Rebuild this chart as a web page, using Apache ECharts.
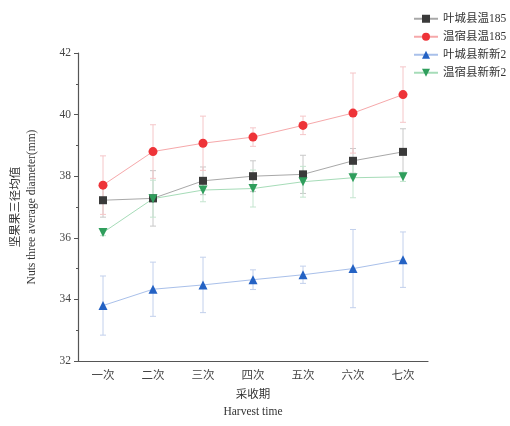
<!DOCTYPE html>
<html><head><meta charset="utf-8">
<script src="https://cdn.jsdelivr.net/npm/echarts@6/dist/echarts.min.js"></script>
<style>html,body{margin:0;padding:0;background:#fff}#c{width:510px;height:426px}</style>
</head><body><div id="c"></div>
<script>
const categories = ['一次','二次','三次','四次','五次','六次','七次'];
const seriesNames = ['叶城县温185','温宿县温185','叶城县新新2','温宿县新新2'];
const ycW185 = [37.22, 37.28, 37.85, 38.00, 38.06, 38.50, 38.79];
const ycW185Err = [0.55, 0.90, 0.45, 0.50, 0.62, 0.40, 0.75];
const wsW185 = [37.71, 38.80, 39.07, 39.27, 39.65, 40.05, 40.65];
const wsW185Err = [0.95, 0.87, 0.88, 0.30, 0.30, 1.30, 0.90];
const ycXX2 = [33.80, 34.33, 34.47, 34.64, 34.80, 35.00, 35.29];
const ycXX2Err = [0.96, 0.88, 0.90, 0.32, 0.28, 1.27, 0.90];
const wsXX2 = [36.17, 37.27, 37.55, 37.60, 37.82, 37.95, 37.98];
const wsXX2Err = [0.10, 0.60, 0.38, 0.60, 0.50, 0.65, 0.15];
const yTicks = {min: 32, max: 42, interval: 2};

const FONT_SERIF = '"Liberation Serif","Noto Sans CJK SC",serif';
const specs = [
  {name: seriesNames[0], data: ycW185, err: ycW185Err, color: '#3a3a3a', line: '#a8a8a8', ebar: '#c8c8c8', symbol: 'rect', size: 8, rot: 0},
  {name: seriesNames[1], data: wsW185, err: wsW185Err, color: '#ee3338', line: '#f6a8aa', ebar: '#f5c6c8', symbol: 'circle', size: 9, rot: 0},
  {name: seriesNames[2], data: ycXX2, err: ycXX2Err, color: '#2462c4', line: '#a9c0ea', ebar: '#c2d0ec', symbol: 'triangle', size: 9, rot: 0},
  {name: seriesNames[3], data: wsXX2, err: wsXX2Err, color: '#2f9e5c', line: '#a6dcb8', ebar: '#c4e5cf', symbol: 'triangle', size: 9, rot: 180}
];

const series = [];
specs.forEach(s => {
  series.push({
    type: 'custom', name: s.name + '_err', xAxisIndex: 0, yAxisIndex: 0, silent: true, z: 1,
    data: s.data.map((v, i) => [i, v - s.err[i], v + s.err[i]]),
    renderItem: function (params, api) {
      const lo = api.coord([api.value(0), api.value(1)]);
      const hi = api.coord([api.value(0), api.value(2)]);
      const w = 3;
      const st = {stroke: s.ebar, lineWidth: 1};
      return {type: 'group', children: [
        {type: 'line', shape: {x1: lo[0], y1: lo[1], x2: hi[0], y2: hi[1]}, style: st},
        {type: 'line', shape: {x1: lo[0]-w, y1: lo[1], x2: lo[0]+w, y2: lo[1]}, style: st},
        {type: 'line', shape: {x1: hi[0]-w, y1: hi[1], x2: hi[0]+w, y2: hi[1]}, style: st}
      ]};
    }
  });
});
specs.forEach(s => {
  series.push({
    type: 'line', name: s.name, data: s.data, xAxisIndex: 0, yAxisIndex: 0, z: 3,
    symbol: s.symbol, symbolSize: s.size, symbolRotate: s.rot,
    itemStyle: {color: s.color},
    lineStyle: {color: s.line, width: 1},
    emphasis: {disabled: true}
  });
});

const chart = echarts.init(document.getElementById('c'), null, {renderer: 'canvas'});
chart.setOption({
  animation: false,
  backgroundColor: '#fff',
  grid: {left: 78, right: 82, top: 53, bottom: 65},
  legend: {
    data: seriesNames, orient: 'vertical', left: 408, top: 8, itemGap: 6.5,
    itemWidth: 24, itemHeight: 10, itemTextGap: 5,
    textStyle: {fontFamily: FONT_SERIF, fontSize: 11.5, color: '#333'}
  },
  xAxis: [{
    type: 'category', data: categories, boundaryGap: true,
    axisLine: {lineStyle: {color: '#555', width: 1.2}},
    axisTick: {alignWithLabel: true, length: 5, lineStyle: {color: '#555'}},
    axisLabel: {fontFamily: FONT_SERIF, fontSize: 11.5, color: '#444', margin: 9},
    name: '采收期\nHarvest time', nameLocation: 'middle', nameGap: 25,
    nameTextStyle: {fontFamily: FONT_SERIF, fontSize: 11.5, color: '#333', lineHeight: 17}
  }, {
    type: 'category', data: categories, boundaryGap: true, position: 'bottom',
    axisLine: {show: false},
    axisTick: {inside: true, length: 3, lineStyle: {color: '#555'}},
    axisLabel: {show: false}
  }],
  yAxis: [{
    type: 'value', min: yTicks.min, max: yTicks.max, interval: yTicks.interval,
    axisLine: {show: true, lineStyle: {color: '#555', width: 1.2}},
    axisTick: {show: true, length: 4, lineStyle: {color: '#555'}},
    minorTick: {show: true, splitNumber: 2, length: 2, lineStyle: {color: '#555'}},
    splitLine: {show: false},
    axisLabel: {fontFamily: FONT_SERIF, fontSize: 11.5, color: '#444', margin: 7},
    name: '坚果果三径均值\nNuts three average diameter(mm)', nameLocation: 'middle', nameGap: 38,
    nameTextStyle: {fontFamily: FONT_SERIF, fontSize: 11.5, color: '#333', lineHeight: 16}
  }],
  series: series
});
</script></body></html>
